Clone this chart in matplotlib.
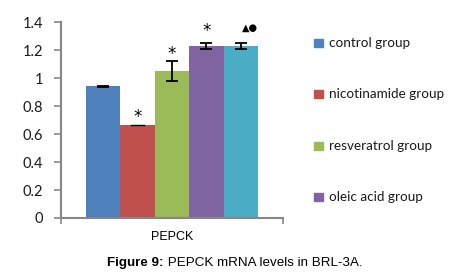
import matplotlib
matplotlib.use("Agg")
import matplotlib.pyplot as plt
import numpy as np

groups = ["control group", "nicotinamide group", "resveratrol group", "oleic acid group", "fifth group"]
values = [0.94, 0.665, 1.05, 1.23, 1.23]
errors = [0.005, 0.0, 0.07, 0.02, 0.02]
marks = ["", "*", "*", "*", "▲●"]
colors = ["#4F81BD", "#C0504D", "#9BBB59", "#8064A2", "#4BACC6"]
category = "PEPCK"
yticks = [0, 0.2, 0.4, 0.6, 0.8, 1, 1.2, 1.4]
ytick_labels = ["0", "0.2", "0.4", "0.6", "0.8", "1", "1.2", "1.4"]
caption_bold = "Figure 9:"
caption_rest = " PEPCK mRNA levels in BRL-3A."

fig = plt.figure(figsize=(4.73, 2.73), dpi=100)
ax = fig.add_axes([0.129, 0.2015, 0.469, 0.7175])

n = len(values)
gw = 0.775
bw = gw / n
xs = -gw / 2 + bw / 2 + np.arange(n) * bw
for i in range(n):
    ax.bar(xs[i], values[i], width=bw, color=colors[i], label=groups[i], zorder=2)
    if errors[i] > 0:
        ax.errorbar(xs[i], values[i], yerr=errors[i], fmt="none", ecolor="black",
                    elinewidth=1.3, capsize=4.3, capthick=1.3, zorder=3)
    else:
        ax.plot([xs[i] - 0.03, xs[i] + 0.03], [values[i], values[i]], color="black", lw=1.0, zorder=3)

star_y = [0, 0.725, 1.17, 1.335, 1.36]
for i in range(n):
    if marks[i] == "*":
        ax.text(xs[i], star_y[i], "*", ha="center", va="center",
                fontsize=12, family="DejaVu Sans", color="black")
    elif marks[i]:
        ax.text(xs[i] + 0.04, star_y[i], marks[i], ha="center", va="center",
                fontsize=7, family="DejaVu Sans", color="black")

ax.set_xlim(-0.5, 0.5)
ax.set_ylim(0, 1.4)
ax.set_yticks(yticks)
ax.set_yticklabels(ytick_labels, fontsize=10.5, family="Lato", color="#1a1a1a")
ax.set_xticks([-0.5, 0.5])
ax.set_xticklabels(["", ""])
ax.tick_params(axis="y", direction="out", length=5, width=1.2, color="#868686", pad=8)
ax.tick_params(axis="x", direction="out", length=4, width=1.2, color="#868686")
for s in ["top", "right"]:
    ax.spines[s].set_visible(False)
for s in ["left", "bottom"]:
    ax.spines[s].set_color("#868686")
    ax.spines[s].set_linewidth(1.5)

fig.text(0.364, 1 - 237 / 273, category, ha="center", va="center", fontsize=9,
         family="Liberation Sans", color="black")

# legend (only first four entries visible)
leg_y = [43, 94, 146, 197]
for i in range(4):
    y = 1 - leg_y[i] / 273
    fig.patches.append(plt.Rectangle((314 / 473, y - 4 / 273), 9 / 473, 8 / 273,
                                     transform=fig.transFigure, color=colors[i], figure=fig))
    fig.text(329 / 473, y, groups[i], ha="left", va="center", fontsize=9.7,
             family="Lato", color="#1a1a1a")

# caption, sized to span x=107..362 px
cy = 1 - 263 / 273
fig.canvas.draw()
r = fig.canvas.get_renderer()
fs = 10.0
ta = fig.text(0, cy, caption_bold, fontsize=fs, family="Liberation Sans", weight="bold", alpha=0)
tb_ = fig.text(0, cy, caption_rest, fontsize=fs, family="Liberation Sans", alpha=0)
w = ta.get_window_extent(r).width + tb_.get_window_extent(r).width
fs = fs * 255 / w
ta.remove()
tb_.remove()
x0 = 107 / 473
tb = fig.text(x0, cy, caption_bold, ha="left", va="center", fontsize=fs,
              family="Liberation Sans", weight="bold")
bb2 = tb.get_window_extent(r)
fig.text(bb2.x1 / fig.bbox.width, cy, caption_rest, ha="left", va="center",
         fontsize=fs, family="Liberation Sans")

fig.savefig("out.png", dpi=100)
